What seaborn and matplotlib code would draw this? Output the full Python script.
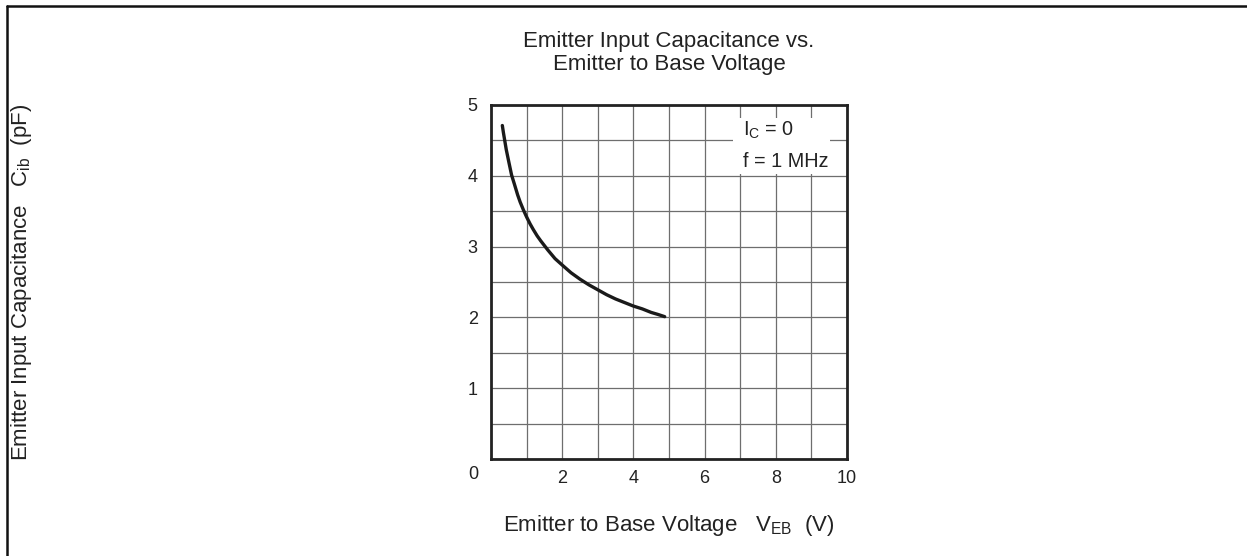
import matplotlib
matplotlib.use("Agg")
import matplotlib.pyplot as plt
import seaborn as sns
import pandas as pd
from matplotlib.patches import Rectangle
from matplotlib.lines import Line2D

# ---- data ----
v_eb = [0.32, 0.35, 0.39, 0.43, 0.50, 0.58, 0.66, 0.75, 0.82, 0.91, 1.00, 1.10, 1.19,
        1.30, 1.40, 1.60, 1.80, 2.00, 2.25, 2.50, 2.75, 3.00, 3.25, 3.50, 3.75, 4.00,
        4.25, 4.50, 4.70, 4.88]
c_ib = [4.71, 4.61, 4.49, 4.37, 4.20, 4.01, 3.88, 3.73, 3.63, 3.52, 3.42, 3.32, 3.24,
        3.15, 3.08, 2.95, 2.83, 2.74, 2.63, 2.54, 2.46, 2.39, 2.32, 2.26, 2.21, 2.16,
        2.12, 2.07, 2.04, 2.01]

x_ticks = [0, 1, 2, 3, 4, 5, 6, 7, 8, 9, 10]
x_tick_labels = ["", "", "2", "", "4", "", "6", "", "8", "", "10"]
y_ticks = [0, 0.5, 1, 1.5, 2, 2.5, 3, 3.5, 4, 4.5, 5]
y_tick_labels = ["", "", "1", "", "2", "", "3", "", "4", "", "5"]

title_text = "Emitter Input Capacitance vs.\nEmitter to Base Voltage"
x_label = r"Emitter to Base Voltage   $\mathregular{V_{EB}}$  (V)"
y_label = r"Emitter Input Capacitance   $\mathregular{C_{ib}}$  (pF)"
cond_line1 = r"$\mathregular{I_C}$ = 0"
cond_line2 = "f = 1 MHz"

df = pd.DataFrame({"V_EB": v_eb, "C_ib": c_ib})

sns.set_theme(style="white")
plt.rcParams["font.family"] = ["Liberation Sans", "DejaVu Sans"]
plt.rcParams["mathtext.fontset"] = "custom"
plt.rcParams["mathtext.rm"] = "Liberation Sans"
plt.rcParams["mathtext.it"] = "Liberation Sans"
plt.rcParams["mathtext.bf"] = "Liberation Sans"

TXT = "#222222"

fig = plt.figure(figsize=(12.47, 5.56), dpi=100)
ax = fig.add_axes([0.3937, 0.1745, 0.2855, 0.6367])

sns.lineplot(data=df, x="V_EB", y="C_ib", ax=ax, color="#1a1a1a", linewidth=2.4,
             zorder=5, sort=True)

ax.set_xlim(0, 10)
ax.set_ylim(0, 5)
ax.set_xticks(x_ticks)
ax.set_xticklabels(x_tick_labels)
ax.set_yticks(y_ticks)
ax.set_yticklabels(y_tick_labels)
ax.tick_params(axis="both", length=0, labelsize=13, colors=TXT)
ax.tick_params(axis="x", pad=8)
ax.tick_params(axis="y", pad=9.5)
ax.grid(True, color="#6e6e6e", linewidth=0.9)
ax.set_axisbelow(True)
for s in ax.spines.values():
    s.set_visible(True)
    s.set_color(TXT)
    s.set_linewidth(2.0)
ax.set_xlabel(x_label, fontsize=16, color=TXT)
ax.xaxis.set_label_coords(0.5, -0.152)
ax.set_ylabel(y_label, fontsize=16, color=TXT)
ax.yaxis.set_label_coords(-1.284, 0.5)

# shared corner "0"
ax.text(-0.5, -0.226, "0", fontsize=13, color=TXT, ha="center", va="center",
        clip_on=False)

# conditions box
ax.add_patch(Rectangle((6.79, 4.03), 2.72, 0.79, facecolor="white", edgecolor="none",
                       zorder=3))
ax.text(7.07, 4.64, cond_line1, fontsize=14.3, color=TXT, ha="left", va="center",
        zorder=6)
ax.text(7.07, 4.20, cond_line2, fontsize=14.3, color=TXT, ha="left", va="center",
        zorder=6)

fig.text(0.5365, 0.905, title_text, fontsize=16, color=TXT, ha="center",
         va="center", linespacing=1.12)

# outer frame (top and left edges)
fig.add_artist(Line2D([6.7 / 1247, 1.0], [1 - 6 / 556, 1 - 6 / 556],
                      transform=fig.transFigure, color="#111111", linewidth=1.8))
fig.add_artist(Line2D([6.7 / 1247, 6.7 / 1247], [1 - 6 / 556, 0.0],
                      transform=fig.transFigure, color="#111111", linewidth=1.8))

fig.savefig("out.png", dpi=100, facecolor="white")
